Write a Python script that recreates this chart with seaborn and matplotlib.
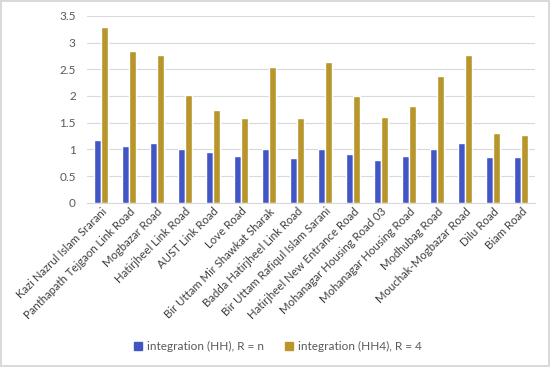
import matplotlib
matplotlib.use("Agg")
import matplotlib.pyplot as plt
import seaborn as sns
import pandas as pd
from matplotlib.patches import Patch

roads = ["Kazi Nazrul Islam Srarani", "Panthapath Tejgaon Link Road", "Mogbazar Road",
         "Hatirjheel Link Road", "AUST Link Road", "Love Road", "Bir Uttam Mir Shawkat Sharak",
         "Badda Hatirjheel Link Road", "Bir Uttam Rafiqul Islam Sarani",
         "Hatirjheel New Entrance Road", "Mohanagar Housing Road 03", "Mohanagar Housing Road",
         "Modhubag Road", "Mouchak-Mogbazar Road", "Dilu Road", "Biam Road"]
hh = [1.17, 1.07, 1.13, 1.00, 0.95, 0.88, 1.01, 0.84, 1.00, 0.91, 0.81, 0.88, 1.01, 1.13, 0.86, 0.86]
hh4 = [3.29, 2.85, 2.77, 2.01, 1.73, 1.58, 2.55, 1.58, 2.64, 2.00, 1.61, 1.82, 2.37, 2.77, 1.30, 1.27]
series = ["integration (HH), R = n", "integration (HH4), R = 4"]
colors = ["#4155C4", "#B8962C"]

df = pd.DataFrame({
    "road": roads * 2,
    "value": hh + hh4,
    "series": [series[0]] * len(roads) + [series[1]] * len(roads),
})

sns.set_style("white")
plt.rcParams["font.family"] = ["Lato", "DejaVu Sans"]

fig = plt.figure(figsize=(5.5, 3.67), dpi=100)
fig.patch.set_edgecolor("#D9D9D9")
fig.patch.set_linewidth(1.5)
ax = fig.add_axes([0.158, 0.447, 0.815, 0.51])
sns.barplot(data=df, x="road", y="value", hue="series", palette=colors,
            width=0.5, ax=ax, legend=False, saturation=1)

ax.set_ylim(0, 3.5)
ax.set_yticks([0, 0.5, 1, 1.5, 2, 2.5, 3, 3.5])
ax.set_yticklabels(["0", "0.5", "1", "1.5", "2", "2.5", "3", "3.5"])
ax.yaxis.grid(True, color="#D9D9D9", linewidth=0.8)
ax.set_axisbelow(True)
for s in ["top", "right", "left"]:
    ax.spines[s].set_visible(False)
ax.spines["bottom"].set_color("#D9D9D9")
ax.set_xlabel("")
ax.set_ylabel("")
ax.tick_params(axis="y", length=0, labelsize=8.5, labelcolor="#595959", pad=8)
ax.tick_params(axis="x", length=0, labelsize=8.2, labelcolor="#404040", pad=2)
ax.set_xlim(-0.5, len(roads) - 0.5)
plt.setp(ax.get_xticklabels(), rotation=45, ha="right", rotation_mode="anchor")

handles = [Patch(color=c, label=l) for c, l in zip(colors, series)]
fig.legend(handles=handles, loc="center", bbox_to_anchor=(0.505, 0.055), ncol=2,
           frameon=False, fontsize=8.5, handlelength=0.7, handleheight=0.7,
           columnspacing=1.8, handletextpad=0.4, labelcolor="#595959")

fig.savefig("out.png", dpi=100, edgecolor=fig.get_edgecolor())
